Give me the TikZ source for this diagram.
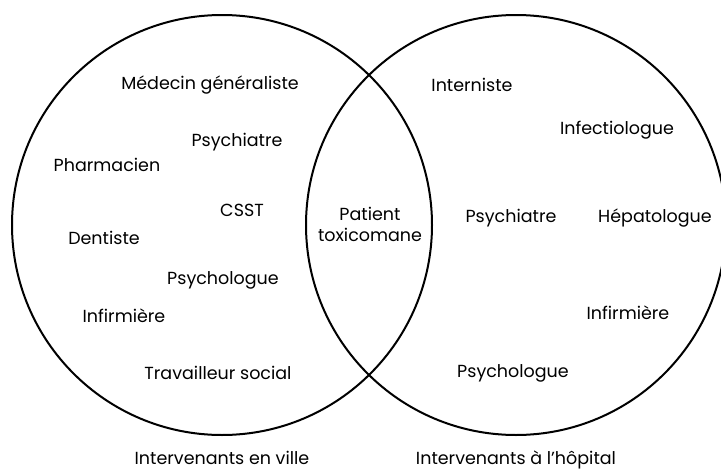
\documentclass[tikz,border=0pt]{standalone}
\usepackage{fontspec}
\setmainfont{Poppins}
\begin{document}
\begin{tikzpicture}[x=1pt,y=-1pt,
  label text/.style={font=\fontsize{17.5}{21}\selectfont, inner sep=0pt, align=center},
  set ring/.style={draw=black, line width=2pt}]
\useasboundingbox (0,0) rectangle (721,471);
% the two sets
\draw[set ring] (222,225) circle[radius=210pt];
\draw[set ring] (516,225) circle[radius=210pt];
% city practitioners
\node[label text] (medgen) at (210,85) {Médecin généraliste};
\node[label text] (psychiatreV) at (237,142) {Psychiatre};
\node[label text] (pharma) at (107,165) {Pharmacien};
\node[label text] (csst) at (242,210) {CSST};
\node[label text] (dentiste) at (104,238) {Dentiste};
\node[label text] (psychologueV) at (223,280) {Psychologue};
\node[label text] (infirmiereV) at (124,316) {Infirmière};
\node[label text] (travailleur) at (218,373) {Travailleur social};
% shared centre
\node[label text] (patient) at (370,224) {Patient\\toxicomane};
% hospital practitioners
\node[label text] (interniste) at (472,85) {Interniste};
\node[label text] (infectio) at (617,130) {Infectiologue};
\node[label text] (psychiatreH) at (511,218) {Psychiatre};
\node[label text] (hepato) at (655,218) {Hépatologue};
\node[label text] (infirmiereH) at (628,313) {Infirmière};
\node[label text] (psychologueH) at (513,373) {Psychologue};
% set captions, set on a common baseline near the lower edge
\node[label text, anchor=base] (ville) at (222,464) {Intervenants en ville};
\node[label text, anchor=base] (hopital) at (516,464) {Intervenants à l’hôpital};
\end{tikzpicture}
\end{document}
